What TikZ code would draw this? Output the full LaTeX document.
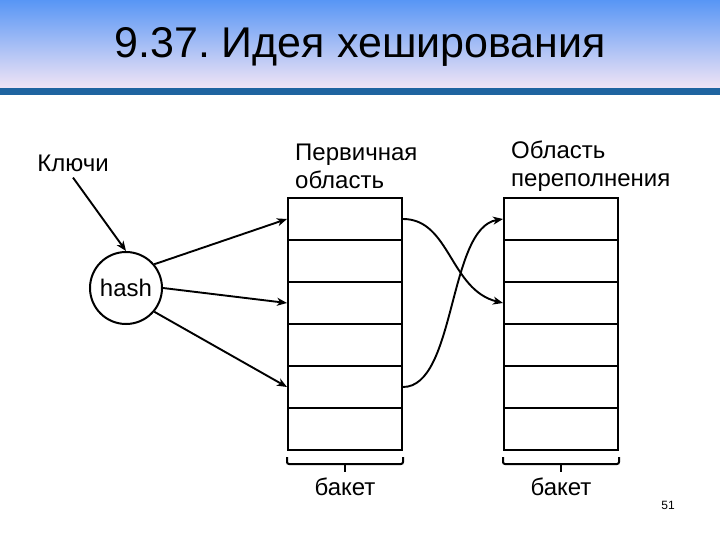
\documentclass[tikz,border=0pt]{standalone}
\usepackage{fontspec}
\setmainfont{Liberation Sans}
\usetikzlibrary{arrows.meta}
\definecolor{headtop}{RGB}{88,150,245}
\definecolor{headmid}{RGB}{165,192,240}
\definecolor{headbot}{RGB}{240,228,245}
\definecolor{headbar}{RGB}{31,100,160}
\tikzset{
  cell/.style={draw,line width=2pt,minimum width=114pt,minimum height=42pt,inner sep=0pt},
  arr/.style={line width=1.9pt,-{Stealth[length=10pt,width=8pt,inset=3pt]}},
  brace/.style={line width=2pt,rounded corners=2pt},
  lbl/.style={font=\fontsize{24}{28}\selectfont,inner sep=0pt,align=left}
}
\begin{document}
\begin{tikzpicture}[x=1pt,y=-1pt]
\useasboundingbox (0,0) rectangle (720,540);
% header
\shade[top color=headtop,middle color=headmid,bottom color=headbot] (0,0) rectangle (720,88);
\fill[headbar] (0,88) rectangle (720,95);
\node (title) at (360,47) {\fontsize{43}{46}\selectfont\frenchspacing 9.37. Идея хеширования};

\node[lbl] (keys) at (73,163) {Ключи};
\node[lbl,anchor=west] (prim) at (295,166) {Первичная\\область};
\node[lbl,anchor=west] (over) at (511,166) {Область\\переполнения};

% buckets
\foreach \i in {1,...,6} {
  \node[cell] (p\i) at (345,{177+42*\i}) {};
  \node[cell] (o\i) at (561,{177+42*\i}) {};
}

\node[circle,draw,line width=2pt,minimum size=72pt,inner sep=0pt,font=\fontsize{24}{28}\selectfont] (hash) at (126,288) {hash};

\draw[arr] ([yshift=-6pt]keys.south) -- (hash.north);
\draw[arr] (hash.40) -- (p1.west);
\draw[arr] (hash.0) -- (p3.west);
\draw[arr] (hash.-40) -- (p5.west);

\draw[arr] (p1.east) .. controls (450,219) and (450,290) .. (o3.west);
\draw[arr] (p5.east) .. controls (456,387) and (448,228) .. (o1.west);

% braces
\foreach \t in {p,o} {
  \draw[brace] ([yshift=-6pt]\t6.south west) -- ([yshift=-13pt]\t6.south west)
    -- ([yshift=-13pt]\t6.south east) -- ([yshift=-6pt]\t6.south east);
  \draw[line width=2pt] ([yshift=-13pt]\t6.south) -- ([yshift=-21pt]\t6.south);
  \node[lbl] (\t lab) at ([yshift=-36pt]\t6.south) {бакет};
}

\node[font=\fontsize{12}{14}\selectfont] (page) at (668,505) {51};
\end{tikzpicture}
\end{document}
